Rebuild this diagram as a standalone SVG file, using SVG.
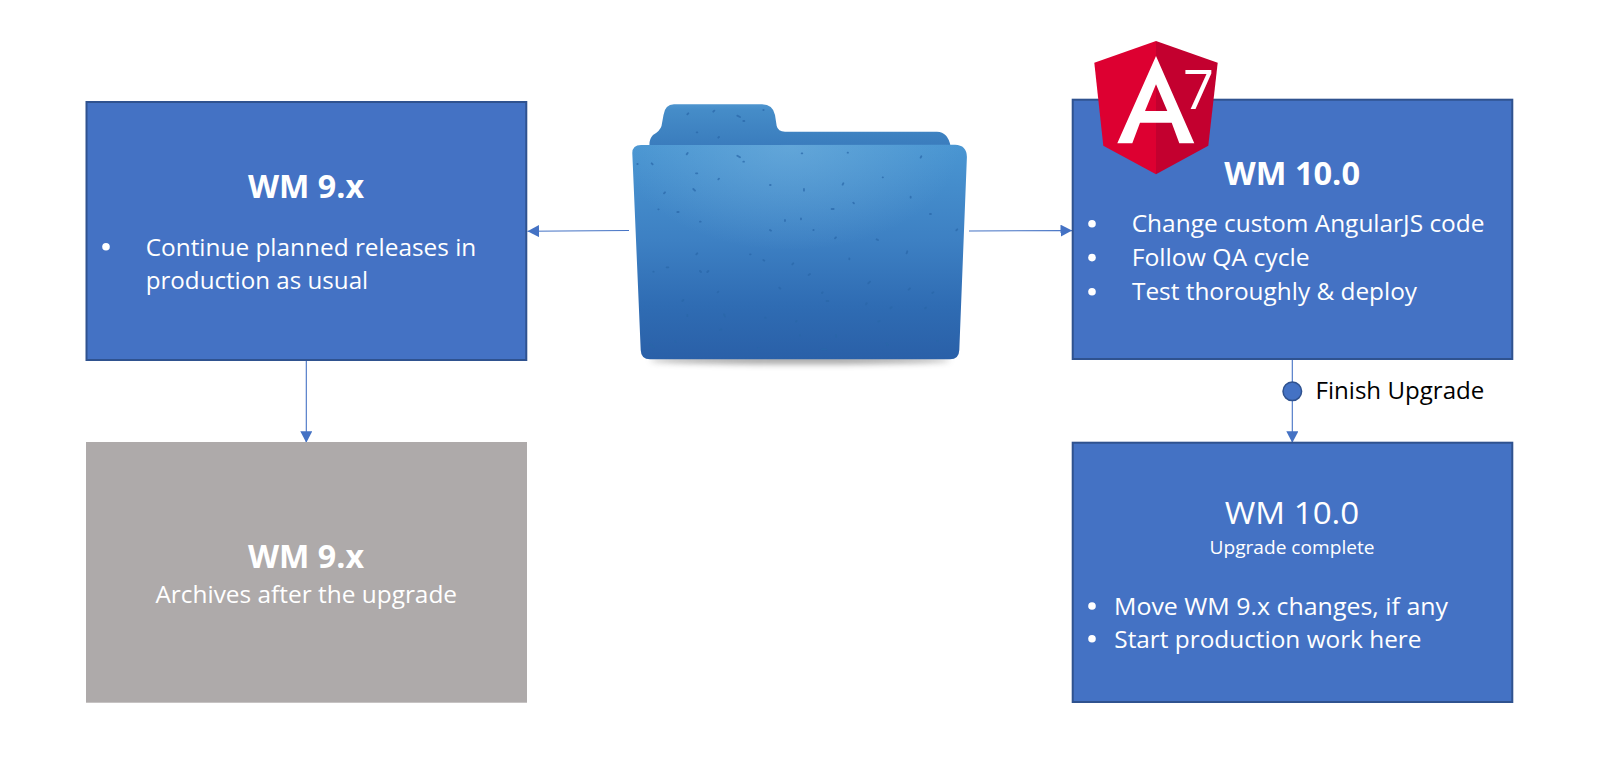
<svg xmlns="http://www.w3.org/2000/svg" width="1603" height="778" viewBox="0 0 1603 778">
<style>
text{font-family:"Open Sans","Noto Sans","Liberation Sans",sans-serif;fill:#fff}
.box{fill:#4472C4;stroke:#2F528F;stroke-width:2}
.grey{fill:#AEAAAA}
.t{font-size:31.5px;font-weight:700}
.tr{font-size:31.5px}
.b{font-size:23.5px}
.s{font-size:18px}
.dot{fill:#fff}
.link{fill:none;stroke:#4472C4;stroke-width:1.1}
.lab{fill:#000;font-size:23.5px}
.spk{fill:none;stroke:#2a66a8;stroke-width:5.5;stroke-linecap:round;opacity:.7}
</style>
<defs>
<marker id="ah" markerUnits="userSpaceOnUse" markerWidth="12" markerHeight="12" refX="11.5" refY="6" orient="auto"><path d="M0 0L11.5 6L0 12Z" fill="#4472C4"/></marker>
<linearGradient id="fFront" x1="0" y1="0" x2="0" y2="1"><stop offset="0" stop-color="#4a96d2"/><stop offset=".45" stop-color="#3d80c3"/><stop offset=".75" stop-color="#2f6cb3"/><stop offset="1" stop-color="#2a60a8"/></linearGradient>
<linearGradient id="fBack" x1="0" y1="0" x2="0" y2="1"><stop offset="0" stop-color="#4e95cf"/><stop offset=".15" stop-color="#458cc8"/><stop offset="1" stop-color="#3a7cbd"/></linearGradient>
<radialGradient id="fGlow" gradientUnits="userSpaceOnUse" cx="790" cy="145" r="170" gradientTransform="translate(0 145) scale(1 .62) translate(0 -145)"><stop offset="0" stop-color="#7ab6e0" stop-opacity=".5"/><stop offset="1" stop-color="#7ab6e0" stop-opacity="0"/></radialGradient>
<filter id="blur" x="-10%" y="-100%" width="120%" height="300%"><feGaussianBlur stdDeviation="3"/></filter>
</defs>
<g id="connectors">
<line class="link" x1="629" y1="230.5" x2="527.5" y2="231.2" marker-end="url(#ah)"/>
<line class="link" x1="969" y1="231" x2="1072" y2="230.6" marker-end="url(#ah)"/>
<line class="link" x1="306.3" y1="361" x2="306.3" y2="442.8" marker-end="url(#ah)"/>
<line class="link" x1="1292.3" y1="360" x2="1292.3" y2="442.8" marker-end="url(#ah)"/>
</g>
<g id="node-wm9"><rect class="box" x="86.5" y="102" width="439.8" height="258"/>
<text class="t" x="248" y="198.3" textLength="116" lengthAdjust="spacingAndGlyphs">WM 9.x</text>
<circle class="dot" cx="106" cy="246.7" r="3.8"/>
<text class="b" x="145.7" y="255.7" textLength="330.6" lengthAdjust="spacingAndGlyphs">Continue planned releases in</text>
<text class="b" x="145.7" y="289.3" textLength="222.5" lengthAdjust="spacingAndGlyphs">production as usual</text></g>
<g id="node-wm9-archive"><rect class="grey" x="86" y="442" width="441" height="260.7"/>
<text class="t" x="248" y="567.7" textLength="116" lengthAdjust="spacingAndGlyphs">WM 9.x</text>
<text class="b" x="155.4" y="602.7" textLength="301.7" lengthAdjust="spacingAndGlyphs">Archives after the upgrade</text></g>
<g id="node-folder">
<ellipse cx="800" cy="360" rx="150" ry="4" fill="#555" opacity=".55" filter="url(#blur)"/>
<path d="M649.5 146Q649 139 653 135Q660 131 661.5 126L663.5 115Q665 104.5 674 104.3L762 104.3Q773 104.5 775 115L776.7 126Q778 131.7 785 131.7L937 131.7Q948 132 950.5 146Z" fill="url(#fBack)"/>
<path d="M632.3 153Q632.5 145 641 145L955 144.7Q966.7 145 966.9 157L959.3 350Q959 359.3 950 359.3L650 359.3Q641 359.3 640.7 350Z" fill="url(#fFront)"/>
<path d="M632.3 153Q632.5 145 641 145L955 144.7Q966.7 145 966.9 157L959.3 350Q959 359.3 950 359.3L650 359.3Q641 359.3 640.7 350Z" fill="url(#fGlow)"/>
<path class="spk" transform="translate(600 85) scale(.3333)" d="M262 88l3-3M340 80l3-3M412 92l8 4M430 108h3M290 142h2M355 158l2-2M490 75h1M260 208l3-4M412 212l8 5M430 230h2M605 205h2M743 203h1M962 218l2-4M112 237h1M155 235l3 3M288 265h4M355 283l2-2M510 300h2M612 312v5M730 295l-2 4M848 277h1M932 335v3M280 312l5 5M195 322l-3 3M175 373h1M232 381h4M300 410h2M555 405v3M603 400v3M695 372h6M760 353l2 2M990 387h3M510 435l3 2M640 435h1M705 460l3-3M830 463l4 2M920 505l2-6M1072 433l-3 3M292 505l-3 3M200 547h5M160 560h1M300 558l3 3M325 558l-3 3M450 508h2M490 525l3 2M580 535l-3 3M630 567l-4 3M748 520v3M810 590l-5 5M930 610l-4 4M1000 622l-3 2M250 645l-3 3M355 620l-2 2M538 608l3 3M668 622l-2 2M680 648h5M800 655l-2 3M875 667l-4 3M978 668l-3 2M262 690v3M372 688l3 6M495 698h2M590 708l-2 2M835 710l4-2M360 735l4-2M150 778l12 9M225 770h2M708 750v6M665 793h14M860 775l3 5M1012 768h2M475 790h1M600 750v1"/>
</g>
<g id="node-wm10"><rect class="box" x="1072.7" y="99.7" width="439.6" height="259.3"/>
<text class="t" x="1224.3" y="185" textLength="135.7" lengthAdjust="spacingAndGlyphs">WM 10.0</text>
<circle class="dot" cx="1092" cy="223.7" r="3.8"/><circle class="dot" cx="1092" cy="257.6" r="3.8"/><circle class="dot" cx="1092" cy="291.7" r="3.8"/>
<text class="b" x="1131.7" y="232.3" textLength="352.8" lengthAdjust="spacingAndGlyphs">Change custom AngularJS code</text>
<text class="b" x="1131.7" y="266.3" textLength="178" lengthAdjust="spacingAndGlyphs">Follow QA cycle</text>
<text class="b" x="1132" y="300.3" textLength="285" lengthAdjust="spacingAndGlyphs">Test thoroughly &amp; deploy</text></g>
<g id="node-angular">
<path d="M1156 41L1094.3 62.7L1103.3 145.7L1156 174.3Z" fill="#DD0031"/>
<path d="M1156 41L1217.7 62.7L1208.3 145.7L1156 174.3Z" fill="#C3002F"/>
<path fill-rule="evenodd" fill="#fff" d="M1156 56L1194.3 143.3H1179.3L1171.7 122.7H1140L1132.3 143.3H1117.3ZM1156 84.3L1145 111H1167.3Z"/>
<text x="1183" y="108.5" font-size="55" font-weight="400" textLength="31" lengthAdjust="spacingAndGlyphs">7</text>
</g>
<g id="node-finish"><circle cx="1292.3" cy="391.3" r="9.3" fill="#4472C4" stroke="#2F528F" stroke-width="1.5"/>
<text class="lab" x="1315.5" y="398.5" textLength="168.8" lengthAdjust="spacingAndGlyphs">Finish Upgrade</text></g>
<g id="node-wm10-complete"><rect class="box" x="1072.7" y="442.7" width="439.6" height="259.3"/>
<text class="tr" x="1224.7" y="524" textLength="134.6" lengthAdjust="spacingAndGlyphs">WM 10.0</text>
<text class="s" x="1209.5" y="554" textLength="165" lengthAdjust="spacingAndGlyphs">Upgrade complete</text>
<circle class="dot" cx="1092" cy="606" r="3.8"/><circle class="dot" cx="1092" cy="638.7" r="3.8"/>
<text class="b" x="1114" y="614.7" textLength="334" lengthAdjust="spacingAndGlyphs">Move WM 9.x changes, if any</text>
<text class="b" x="1114.3" y="648" textLength="307.2" lengthAdjust="spacingAndGlyphs">Start production work here</text></g>
</svg>
